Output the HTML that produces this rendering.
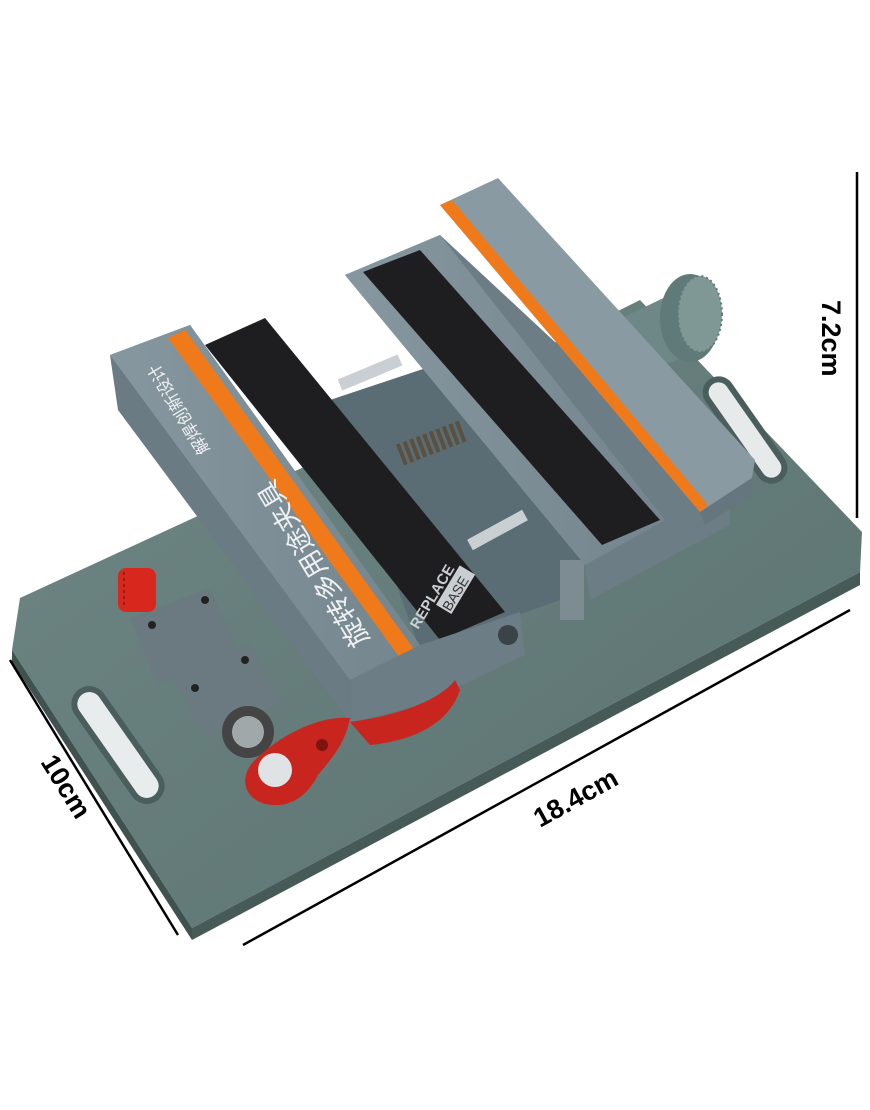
<!DOCTYPE html>
<html><head><meta charset="utf-8"><style>
html,body{margin:0;padding:0;background:#fff;width:870px;height:1110px;overflow:hidden}
svg{display:block}
text{font-family:"Liberation Sans","Noto Sans CJK SC",sans-serif}
</style></head><body>
<svg width="870" height="1110" viewBox="0 0 870 1110">
<defs>
<linearGradient id="plate" x1="0" y1="0" x2="1" y2="1">
<stop offset="0" stop-color="#6f8785"/><stop offset="1" stop-color="#5a716f"/></linearGradient>
<linearGradient id="jaw" x1="0" y1="0" x2="1" y2="0">
<stop offset="0" stop-color="#8797a0"/><stop offset="1" stop-color="#74858d"/></linearGradient>
</defs>
<polygon points="20,598 330,455 640,300 862,532 860,572 192,928 12,650" fill="url(#plate)"/>
<polygon points="12,650 192,928 192,940 12,662" fill="#3f5250"/>
<polygon points="192,928 860,572 860,585 192,940" fill="#465a58"/>
<g transform="translate(118,745) rotate(55)"><rect x="-68" y="-18" width="136" height="36" rx="18" fill="#4a5f5d"/><rect x="-62" y="-12" width="124" height="24" rx="12" fill="#e8ecec"/></g>
<g transform="translate(745,430) rotate(55)"><rect x="-62" y="-16" width="124" height="32" rx="16" fill="#4a5f5d"/><rect x="-56" y="-10" width="112" height="20" rx="10" fill="#e6eaea"/></g>
<!-- knurled knob right -->
<polygon points="622,318 680,290 700,350 640,375" fill="#6d8886"/>
<ellipse cx="690" cy="318" rx="30" ry="44" fill="#5f7a78"/>
<ellipse cx="700" cy="314" rx="22" ry="38" fill="#7f9896"/>
<ellipse cx="700" cy="314" rx="22" ry="38" fill="none" stroke="#5f7a78" stroke-width="2" stroke-dasharray="2,3"/>
<!-- center body -->
<polygon points="330,400 480,350 600,520 560,600 420,650" fill="#5a6d74"/>
<rect x="560" y="560" width="24" height="60" fill="#7c8c92"/>
<line x1="340" y1="385" x2="400" y2="360" stroke="#c9cfd2" stroke-width="12"/>
<line x1="470" y1="545" x2="525" y2="515" stroke="#c9cfd2" stroke-width="12"/>
<line x1="400" y1="455" x2="465" y2="430" stroke="#5b5040" stroke-width="22" stroke-dasharray="4,3"/>
<!-- right jaw -->
<polygon points="345,275 440,235 730,505 730,525 590,600 585,565" fill="#6c7d85"/>
<polygon points="345,275 440,235 665,520 585,565" fill="url(#jaw)"/>
<polygon points="363,272 420,250 660,520 602,545" fill="#1e1e20"/>
<polygon points="440,205 498,178 755,460 752,478 700,512" fill="#8a9aa2"/>
<polygon points="440,205 452,200 708,505 700,512" fill="#f07a1a"/>
<polygon points="700,512 752,478 752,495 705,525" fill="#65767e"/>
<!-- left jaw -->
<polygon points="110,355 190,325 420,645 420,700 350,722 118,410" fill="#6a7b83"/>
<polygon points="110,355 190,325 420,645 350,680" fill="url(#jaw)"/>
<polygon points="168,338 185,330 418,655 405,665" fill="#f07a1a"/>
<polygon points="205,345 265,318 505,612 440,640" fill="#1e1e20"/>
<polygon points="350,680 420,645 520,612 525,655 420,705 352,722" fill="#6c7d85"/>
<circle cx="508" cy="635" r="10" fill="#3a4448"/>
<text transform="translate(418,630) rotate(-59)" font-size="15" font-weight="bold" fill="#c9ced2">REPLACE</text>
<rect transform="translate(448,612) rotate(-59)" x="0" y="-14" width="46" height="18" fill="#c9ced2"/>
<text transform="translate(450,612) rotate(-59)" font-size="14" fill="#333">BASE</text>
<text transform="translate(370,640) rotate(-121)" font-size="27" fill="#eef0f2">旋转多用途夹具</text>
<text transform="translate(210,450) rotate(-121)" font-size="17" fill="#eef0f2">解焊创新设计</text>
<!-- red arc behind -->
<path d="M350,722 C400,715 440,700 455,680 L460,690 C450,720 420,740 370,745 Z" fill="#c8251e"/>
<!-- left clamp parts -->
<polygon points="130,618 210,588 238,650 158,685" fill="#6a7a80"/>
<polygon points="172,676 250,643 282,702 205,738" fill="#6a7a80"/>
<circle cx="152" cy="625" r="4" fill="#222"/><circle cx="205" cy="600" r="4" fill="#222"/>
<circle cx="195" cy="688" r="4" fill="#222"/><circle cx="245" cy="660" r="4" fill="#222"/>
<rect x="118" y="568" width="38" height="44" rx="8" fill="#d8281e"/>
<line x1="124" y1="572" x2="124" y2="608" stroke="#a01810" stroke-width="2" stroke-dasharray="3,3"/>
<!-- lever -->
<circle cx="248" cy="732" r="26" fill="#444"/><circle cx="248" cy="732" r="16" fill="#a0a8aa"/>
<path d="M255,760 C280,735 320,715 350,718 C345,745 330,760 318,775 C305,800 285,810 262,803 C242,795 240,775 255,760 Z" fill="#c8251e"/>
<circle cx="322" cy="745" r="6" fill="#7a1510"/>
<circle cx="275" cy="770" r="17" fill="#dfe3e5"/>
<!-- dimensions -->
<line x1="857" y1="172" x2="857" y2="518" stroke="#000" stroke-width="2.5"/>
<text transform="translate(822,300) rotate(90)" font-size="27" font-weight="bold" fill="#000">7.2cm</text>
<line x1="10" y1="660" x2="178" y2="935" stroke="#000" stroke-width="2.5"/>
<text transform="translate(40,762) rotate(58)" font-size="27" font-weight="bold" fill="#000">10cm</text>
<line x1="243" y1="945" x2="850" y2="610" stroke="#000" stroke-width="2.5"/>
<text transform="translate(540,828) rotate(-29)" font-size="27" font-weight="bold" fill="#000">18.4cm</text>
</svg>
</body></html>
